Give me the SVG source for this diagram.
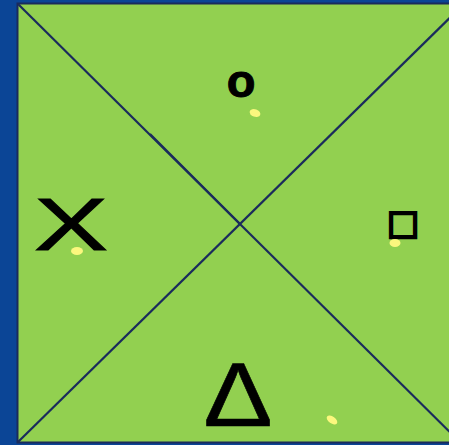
<svg xmlns="http://www.w3.org/2000/svg" width="449" height="445" viewBox="0 0 449 445">
<style>
.sym{font-family:"Liberation Sans","DejaVu Sans",sans-serif;fill:#000;text-anchor:middle}
.dot{fill:#fbf77e}
.diag{stroke:#1a2b5c;stroke-width:2.2;fill:none}
</style>
<rect x="0" y="0" width="449" height="445" fill="#0b4596"/>
<g id="board">
<rect x="17.5" y="3.5" width="460" height="439" fill="#92d050" stroke="#1a2b5c" stroke-width="2"/>
</g>
<g id="connectors">
<line class="diag" x1="18" y1="4" x2="470" y2="452"/>
<line class="diag" x1="18" y1="442" x2="470" y2="-2"/>
<line class="diag" x1="150" y1="134" x2="240" y2="224" stroke-width="2.8"/>
</g>
<g id="node-top">
<text class="sym" x="241" y="97" font-size="47" font-weight="bold" stroke="#000" stroke-width="1">o</text>
<ellipse class="dot" cx="255" cy="113" rx="5.5" ry="3.8" transform="rotate(20 255 113)"/>
</g>
<g id="node-left">
<text class="sym" transform="translate(71,250) scale(1.5,1)" font-size="74" stroke="#000" stroke-width="1">X</text>
<ellipse class="dot" cx="77" cy="251" rx="6" ry="4"/>
</g>
<g id="node-right">
<text class="sym" x="403" y="234" font-size="34" font-weight="bold" stroke="#000" stroke-width="2.4" style="font-family:'DejaVu Sans',sans-serif">□</text>
<ellipse class="dot" cx="395" cy="243" rx="5.5" ry="4"/>
</g>
<g id="node-bottom">
<text class="sym" transform="translate(238,426) scale(1.15,1)" font-size="90" stroke="#000" stroke-width="0.6">Δ</text>
<ellipse class="dot" cx="332" cy="420" rx="6" ry="3.5" transform="rotate(35 332 420)"/>
</g>
</svg>
